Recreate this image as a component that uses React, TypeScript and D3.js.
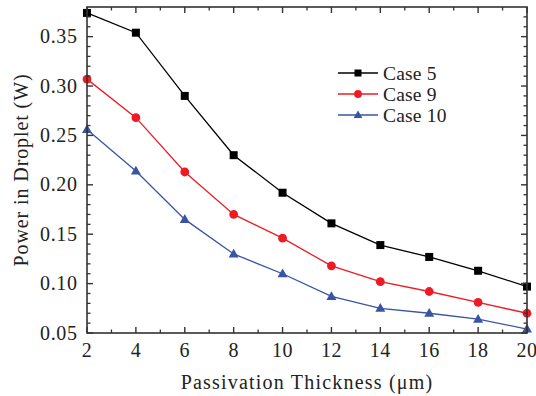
import React from "react";
import * as d3 from "d3";

const thickness = [2, 4, 6, 8, 10, 12, 14, 16, 18, 20];
const case5 = [0.374, 0.354, 0.29, 0.23, 0.192, 0.161, 0.139, 0.127, 0.113, 0.097];
const case9 = [0.307, 0.268, 0.213, 0.17, 0.146, 0.118, 0.102, 0.092, 0.081, 0.07];
const case10 = [0.256, 0.214, 0.165, 0.13, 0.11, 0.087, 0.075, 0.07, 0.064, 0.054];
const seriesNames = ["Case 5", "Case 9", "Case 10"];
const xTicks = [2, 4, 6, 8, 10, 12, 14, 16, 18, 20];
const yTicks = [0.05, 0.1, 0.15, 0.2, 0.25, 0.3, 0.35];

const W = 536;
const H = 396;
const M = { left: 87, right: 9, top: 7, bottom: 63 };
const FONT = "Liberation Serif, Tinos, DejaVu Serif, serif";

const series = [
  { name: seriesNames[0], values: case5, color: "#000000", shape: "square" },
  { name: seriesNames[1], values: case9, color: "#ed1c24", shape: "circle" },
  { name: seriesNames[2], values: case10, color: "#3a54a4", shape: "triangle" },
];

function Marker({ shape, x, y, color, size }: { shape: string; x: number; y: number; color: string; size: number }) {
  if (shape === "square") {
    return <rect x={x - size / 2} y={y - size / 2} width={size} height={size} fill={color} />;
  }
  if (shape === "circle") {
    return <circle cx={x} cy={y} r={size / 2 + 0.4} fill={color} />;
  }
  const s = size * 1.25;
  const h = s * 0.88;
  return (
    <path
      d={`M${x},${y - h * 0.6}L${x + s / 2},${y + h * 0.4}L${x - s / 2},${y + h * 0.4}Z`}
      fill={color}
    />
  );
}

export default function App() {
  const x = d3.scaleLinear().domain([2, 20]).range([M.left, W - M.right]);
  const y = d3.scaleLinear().domain([0.05, 0.38]).range([H - M.bottom, M.top]);
  const x0 = x.range()[0];
  const x1 = x.range()[1];
  const y0 = y.range()[0];
  const y1 = y.range()[1];

  const line = d3
    .line<number>()
    .x((_, i) => x(thickness[i]))
    .y((d) => y(d));

  const xMinor = d3.range(3, 20, 2);
  const yMinor = d3.range(0.06, 0.38, 0.01).filter((v) => Math.abs(Math.round(v * 20) - v * 20) > 1e-6);
  const axisColor = "#333333";

  return (
    <svg width={W} height={H} style={{ position: "absolute", left: 0, top: 0, background: "#fff", fontFamily: FONT }}>
      {/* series */}
      {series.map((s) => (
        <g key={s.name}>
          <path d={line(s.values) || ""} fill="none" stroke={s.color} strokeWidth={1.3} />
          {s.values.map((v, i) => (
            <Marker key={i} shape={s.shape} x={x(thickness[i])} y={y(v)} color={s.color} size={8} />
          ))}
        </g>
      ))}

      {/* frame */}
      <rect x={x0} y={y1} width={x1 - x0} height={y0 - y1} fill="none" stroke={axisColor} strokeWidth={1.6} />

      {/* x ticks, bottom and top, pointing inward */}
      {xTicks.map((t) => (
        <g key={"xt" + t}>
          <line x1={x(t)} x2={x(t)} y1={y0} y2={y0 - 6} stroke={axisColor} strokeWidth={1.4} />
          <line x1={x(t)} x2={x(t)} y1={y1} y2={y1 + 6} stroke={axisColor} strokeWidth={1.4} />
        </g>
      ))}
      {xMinor.map((t) => (
        <g key={"xm" + t}>
          <line x1={x(t)} x2={x(t)} y1={y0} y2={y0 - 3.5} stroke={axisColor} strokeWidth={1.3} />
          <line x1={x(t)} x2={x(t)} y1={y1} y2={y1 + 3.5} stroke={axisColor} strokeWidth={1.3} />
        </g>
      ))}
      {/* y ticks, left and right */}
      {yTicks.map((t) => (
        <g key={"yt" + t}>
          <line x1={x0} x2={x0 + 6} y1={y(t)} y2={y(t)} stroke={axisColor} strokeWidth={1.4} />
          <line x1={x1} x2={x1 - 6} y1={y(t)} y2={y(t)} stroke={axisColor} strokeWidth={1.4} />
        </g>
      ))}
      {yMinor.map((t) => (
        <g key={"ym" + t.toFixed(2)}>
          <line x1={x0} x2={x0 + 3.5} y1={y(t)} y2={y(t)} stroke={axisColor} strokeWidth={1.3} />
          <line x1={x1} x2={x1 - 3.5} y1={y(t)} y2={y(t)} stroke={axisColor} strokeWidth={1.3} />
        </g>
      ))}

      {/* tick labels */}
      {xTicks.map((t) => (
        <text key={"xl" + t} x={x(t)} y={y0 + 24} textAnchor="middle" fontSize={20} fill="#222" letterSpacing={0.5}>
          {t}
        </text>
      ))}
      {yTicks.map((t) => (
        <text key={"yl" + t} x={x0 - 9.5} y={y(t) + 6.5} textAnchor="end" fontSize={20} fill="#222" letterSpacing={0.6}>
          {t.toFixed(2)}
        </text>
      ))}

      {/* axis titles */}
      <text x={(x0 + x1) / 2} y={389} textAnchor="middle" fontSize={20} fill="#222" letterSpacing={1.2}>
        Passivation Thickness (μm)
      </text>
      <text
        transform={`translate(28,${(y0 + y1) / 2}) rotate(-90)`}
        textAnchor="middle"
        fontSize={20}
        fill="#222"
        letterSpacing={0.9}
      >
        Power in Droplet (W)
      </text>

      {/* legend */}
      {series.map((s, i) => {
        const ly = 73 + i * 21;
        return (
          <g key={"lg" + s.name}>
            <line x1={338} x2={378} y1={ly} y2={ly} stroke={s.color} strokeWidth={1.3} />
            <Marker shape={s.shape} x={358} y={ly} color={s.color} size={7} />
            <text x={383} y={ly + 6.5} fontSize={19.5} fill="#222" letterSpacing={0.2}>
              {s.name}
            </text>
          </g>
        );
      })}
    </svg>
  );
}
